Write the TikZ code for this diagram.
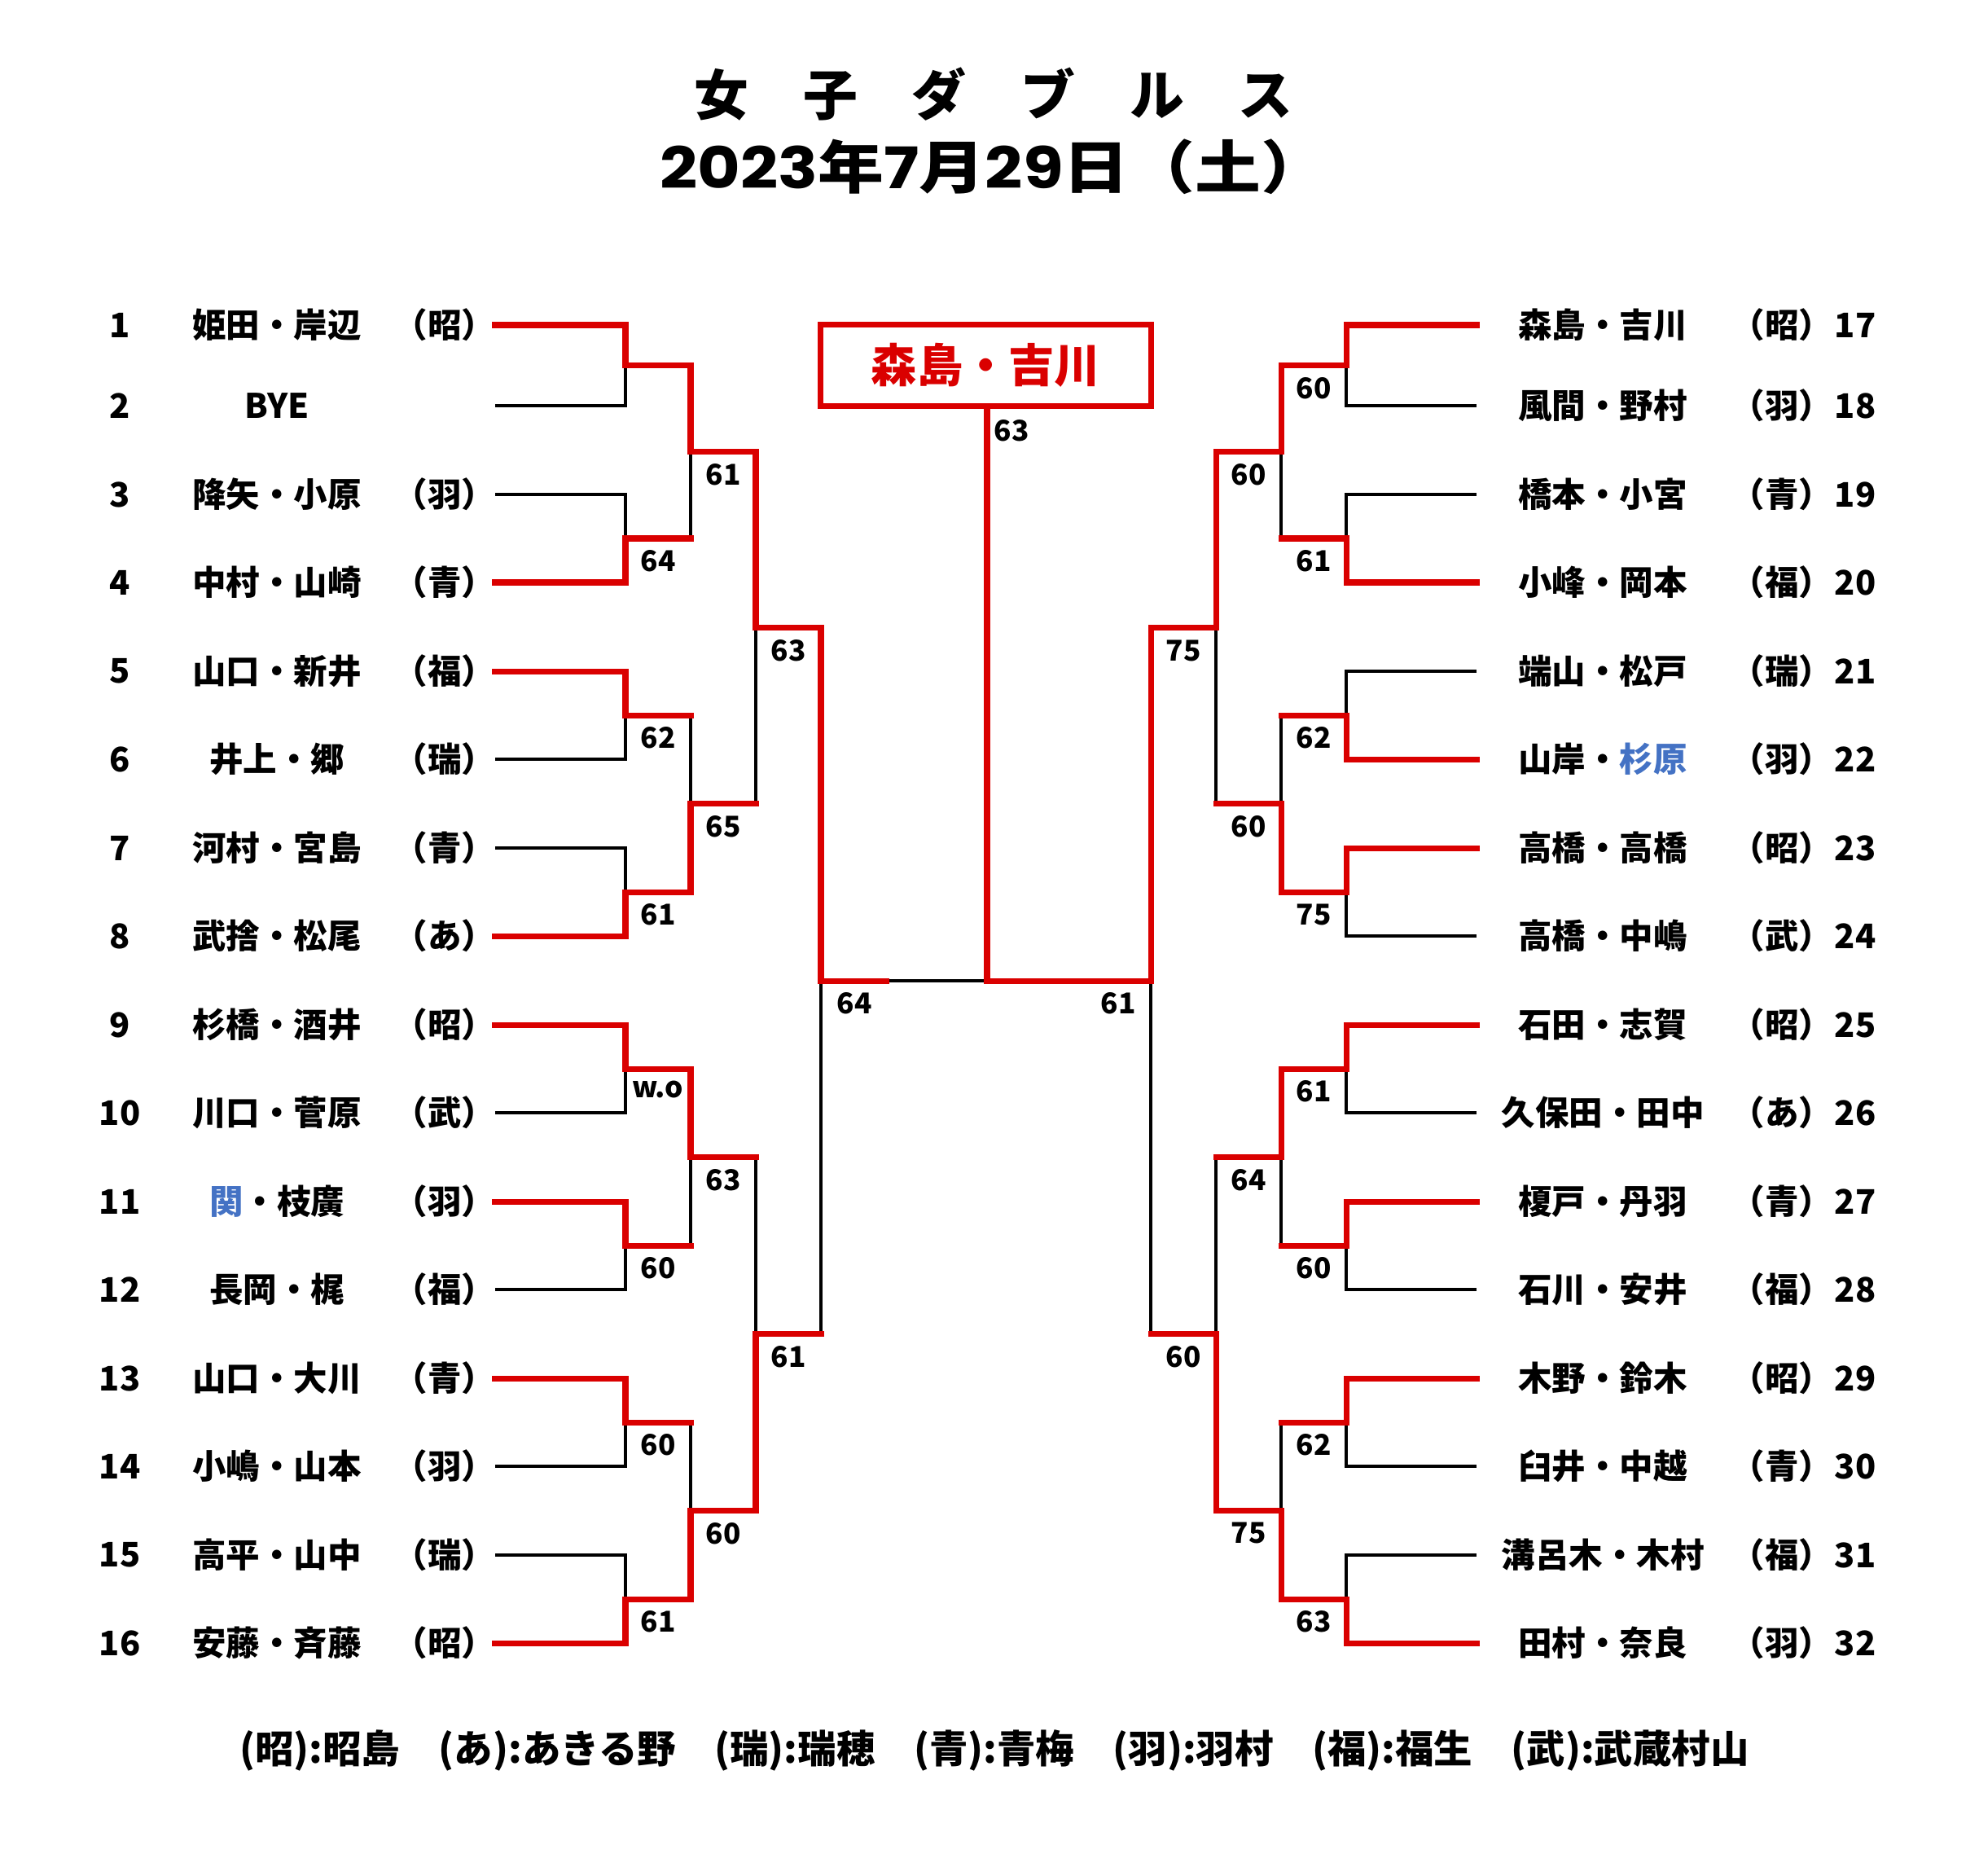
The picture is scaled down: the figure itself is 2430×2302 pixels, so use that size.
\documentclass[tikz,border=0pt]{standalone}
\usepackage{fontspec}
\setmainfont{Noto Sans CJK JP}
\newfontfamily\numfont{Poppins}
\definecolor{wred}{RGB}{218,0,0}
\definecolor{nblue}{RGB}{68,114,196}
\tikzset{
  win/.style={wred, line width=2pt, line cap=rect},
  lose/.style={black, line width=1pt},
  team/.style={font=\fontsize{11.8}{14}\selectfont\bfseries, inner sep=0pt},
  score/.style={font=\fontsize{10}{12}\selectfont\bfseries, anchor=north, inner sep=0pt},
}
\begin{document}
\begin{tikzpicture}[x=0.01cm, y=-0.01cm]
\useasboundingbox (0,0) rectangle (2430,2302);
\node[font=\fontsize{19}{23}\selectfont\bfseries] (title) at (1220,116) {女　子　ダ　ブ　ル　ス};
\node[font=\fontsize{20}{24}\selectfont\bfseries] (date) at (1220,205) {\scalebox{1.15}[1]{{\numfont 2023}年{\numfont 7}月{\numfont 29}日（土）}};

\node[team] (n1) at (147,399) {1};   \node[team] (t1) at (340,399) {姫田・岸辺};   \node[team] (s1) at (546,399) {（昭）};
\node[team] (n2) at (147,498) {2};   \node[team] (t2) at (340,498) {BYE};
\node[team] (n3) at (147,607) {3};   \node[team] (t3) at (340,607) {降矢・小原};   \node[team] (s3) at (546,607) {（羽）};
\node[team] (n4) at (147,715) {4};   \node[team] (t4) at (340,715) {中村・山崎};   \node[team] (s4) at (546,715) {（青）};
\node[team] (n5) at (147,824) {5};   \node[team] (t5) at (340,824) {山口・新井};   \node[team] (s5) at (546,824) {（福）};
\node[team] (n6) at (147,932) {6};   \node[team] (t6) at (340,932) {井上・郷};     \node[team] (s6) at (546,932) {（瑞）};
\node[team] (n7) at (147,1041) {7};  \node[team] (t7) at (340,1041) {河村・宮島};  \node[team] (s7) at (546,1041) {（青）};
\node[team] (n8) at (147,1149) {8};  \node[team] (t8) at (340,1149) {武捨・松尾};  \node[team] (s8) at (546,1149) {（あ）};
\node[team] (n9) at (147,1258) {9};  \node[team] (t9) at (340,1258) {杉橋・酒井};  \node[team] (s9) at (546,1258) {（昭）};
\node[team] (n10) at (147,1366) {10}; \node[team] (t10) at (340,1366) {川口・菅原}; \node[team] (s10) at (546,1366) {（武）};
\node[team] (n11) at (147,1475) {11}; \node[team] (t11) at (340,1475) {\textcolor{nblue}{関}・枝廣}; \node[team] (s11) at (546,1475) {（羽）};
\node[team] (n12) at (147,1583) {12}; \node[team] (t12) at (340,1583) {長岡・梶};   \node[team] (s12) at (546,1583) {（福）};
\node[team] (n13) at (147,1692) {13}; \node[team] (t13) at (340,1692) {山口・大川}; \node[team] (s13) at (546,1692) {（青）};
\node[team] (n14) at (147,1800) {14}; \node[team] (t14) at (340,1800) {小嶋・山本}; \node[team] (s14) at (546,1800) {（羽）};
\node[team] (n15) at (147,1909) {15}; \node[team] (t15) at (340,1909) {高平・山中}; \node[team] (s15) at (546,1909) {（瑞）};
\node[team] (n16) at (147,2017) {16}; \node[team] (t16) at (340,2017) {安藤・斉藤}; \node[team] (s16) at (546,2017) {（昭）};

\node[team] (t17) at (1968,399) {森島・吉川};   \node[team] (s17) at (2188,399) {（昭）};  \node[team] (n17) at (2278,399) {17};
\node[team] (t18) at (1968,498) {風間・野村};   \node[team] (s18) at (2188,498) {（羽）};  \node[team] (n18) at (2278,498) {18};
\node[team] (t19) at (1968,607) {橋本・小宮};   \node[team] (s19) at (2188,607) {（青）};  \node[team] (n19) at (2278,607) {19};
\node[team] (t20) at (1968,715) {小峰・岡本};   \node[team] (s20) at (2188,715) {（福）};  \node[team] (n20) at (2278,715) {20};
\node[team] (t21) at (1968,824) {端山・松戸};   \node[team] (s21) at (2188,824) {（瑞）};  \node[team] (n21) at (2278,824) {21};
\node[team] (t22) at (1968,932) {山岸・\textcolor{nblue}{杉原}}; \node[team] (s22) at (2188,932) {（羽）}; \node[team] (n22) at (2278,932) {22};
\node[team] (t23) at (1968,1041) {高橋・高橋};  \node[team] (s23) at (2188,1041) {（昭）}; \node[team] (n23) at (2278,1041) {23};
\node[team] (t24) at (1968,1149) {高橋・中嶋};  \node[team] (s24) at (2188,1149) {（武）}; \node[team] (n24) at (2278,1149) {24};
\node[team] (t25) at (1968,1258) {石田・志賀};  \node[team] (s25) at (2188,1258) {（昭）}; \node[team] (n25) at (2278,1258) {25};
\node[team] (t26) at (1968,1366) {久保田・田中}; \node[team] (s26) at (2188,1366) {（あ）}; \node[team] (n26) at (2278,1366) {26};
\node[team] (t27) at (1968,1475) {榎戸・丹羽};  \node[team] (s27) at (2188,1475) {（青）}; \node[team] (n27) at (2278,1475) {27};
\node[team] (t28) at (1968,1583) {石川・安井};  \node[team] (s28) at (2188,1583) {（福）}; \node[team] (n28) at (2278,1583) {28};
\node[team] (t29) at (1968,1692) {木野・鈴木};  \node[team] (s29) at (2188,1692) {（昭）}; \node[team] (n29) at (2278,1692) {29};
\node[team] (t30) at (1968,1800) {臼井・中越};  \node[team] (s30) at (2188,1800) {（青）}; \node[team] (n30) at (2278,1800) {30};
\node[team] (t31) at (1968,1909) {溝呂木・木村}; \node[team] (s31) at (2188,1909) {（福）}; \node[team] (n31) at (2278,1909) {31};
\node[team] (t32) at (1968,2017) {田村・奈良};  \node[team] (s32) at (2188,2017) {（羽）}; \node[team] (n32) at (2278,2017) {32};

\coordinate (p1) at (608,399);   \coordinate (p2) at (608,498);   \coordinate (p3) at (608,607);   \coordinate (p4) at (608,715);
\coordinate (p5) at (608,824);   \coordinate (p6) at (608,932);   \coordinate (p7) at (608,1041);  \coordinate (p8) at (608,1149);
\coordinate (p9) at (608,1258);  \coordinate (p10) at (608,1366); \coordinate (p11) at (608,1475); \coordinate (p12) at (608,1583);
\coordinate (p13) at (608,1692); \coordinate (p14) at (608,1800); \coordinate (p15) at (608,1909); \coordinate (p16) at (608,2017);
\coordinate (p17) at (1813,399);  \coordinate (p18) at (1813,498);  \coordinate (p19) at (1813,607);  \coordinate (p20) at (1813,715);
\coordinate (p21) at (1813,824);  \coordinate (p22) at (1813,932);  \coordinate (p23) at (1813,1041); \coordinate (p24) at (1813,1149);
\coordinate (p25) at (1813,1258); \coordinate (p26) at (1813,1366); \coordinate (p27) at (1813,1475); \coordinate (p28) at (1813,1583);
\coordinate (p29) at (1813,1692); \coordinate (p30) at (1813,1800); \coordinate (p31) at (1813,1909); \coordinate (p32) at (1813,2017);

\coordinate (a1) at (768,448.5); \coordinate (a2) at (768,661);  \coordinate (a3) at (768,878);  \coordinate (a4) at (768,1095);
\coordinate (a5) at (768,1312);  \coordinate (a6) at (768,1529); \coordinate (a7) at (768,1746); \coordinate (a8) at (768,1963);
\coordinate (b1) at (848,554.75); \coordinate (b2) at (848,986.5); \coordinate (b3) at (848,1420.5); \coordinate (b4) at (848,1854.5);
\coordinate (c1) at (928,770.6); \coordinate (c2) at (928,1637.5);
\coordinate (d1) at (1008,1204);
\coordinate (e1) at (1653,448.5); \coordinate (e2) at (1653,661);  \coordinate (e3) at (1653,878);  \coordinate (e4) at (1653,1095);
\coordinate (e5) at (1653,1312);  \coordinate (e6) at (1653,1529); \coordinate (e7) at (1653,1746); \coordinate (e8) at (1653,1963);
\coordinate (g1) at (1573,554.75); \coordinate (g2) at (1573,986.5); \coordinate (g3) at (1573,1420.5); \coordinate (g4) at (1573,1854.5);
\coordinate (h1) at (1493,770.6); \coordinate (h2) at (1493,1637.5);
\coordinate (k1) at (1413,1204);
\coordinate (f) at (1212,1204);
\coordinate (dw) at (1088,1204);

\node[draw=wred, line width=2pt, minimum width=4.05cm, minimum height=0.99cm, inner sep=0pt, text=wred, font=\fontsize{16}{19}\selectfont\bfseries] (champ) at (1210.5,448.5) {森島・吉川};

\draw[lose] (p2) -- (p2 -| a1) -- (a1);
\draw[lose] (p3) -- (p3 -| a2) -- (a2);
\draw[lose] (p6) -- (p6 -| a3) -- (a3);
\draw[lose] (p7) -- (p7 -| a4) -- (a4);
\draw[lose] (p10) -- (p10 -| a5) -- (a5);
\draw[lose] (p12) -- (p12 -| a6) -- (a6);
\draw[lose] (p14) -- (p14 -| a7) -- (a7);
\draw[lose] (p15) -- (p15 -| a8) -- (a8);
\draw[lose] (a2 -| b1) -- (b1);
\draw[lose] (a3 -| b2) -- (b2);
\draw[lose] (a6 -| b3) -- (b3);
\draw[lose] (a7 -| b4) -- (b4);
\draw[lose] (b2 -| c1) -- (c1);
\draw[lose] (b3 -| c2) -- (c2);
\draw[lose] (c2 -| d1) -- (d1) -- (f);

\draw[lose] (p18) -- (p18 -| e1) -- (e1);
\draw[lose] (p19) -- (p19 -| e2) -- (e2);
\draw[lose] (p21) -- (p21 -| e3) -- (e3);
\draw[lose] (p24) -- (p24 -| e4) -- (e4);
\draw[lose] (p26) -- (p26 -| e5) -- (e5);
\draw[lose] (p28) -- (p28 -| e6) -- (e6);
\draw[lose] (p30) -- (p30 -| e7) -- (e7);
\draw[lose] (p31) -- (p31 -| e8) -- (e8);
\draw[lose] (e2 -| g1) -- (g1);
\draw[lose] (e3 -| g2) -- (g2);
\draw[lose] (e6 -| g3) -- (g3);
\draw[lose] (e7 -| g4) -- (g4);
\draw[lose] (g2 -| h1) -- (h1);
\draw[lose] (g3 -| h2) -- (h2);
\draw[lose] (h2 -| k1) -- (k1);

\draw[win] (p1) -- (p1 -| a1) -- (a1) -- (a1 -| b1);
\draw[win] (p4) -- (p4 -| a2) -- (a2) -- (a2 -| b1);
\draw[win] (p5) -- (p5 -| a3) -- (a3) -- (a3 -| b2);
\draw[win] (p8) -- (p8 -| a4) -- (a4) -- (a4 -| b2);
\draw[win] (p9) -- (p9 -| a5) -- (a5) -- (a5 -| b3);
\draw[win] (p11) -- (p11 -| a6) -- (a6) -- (a6 -| b3);
\draw[win] (p13) -- (p13 -| a7) -- (a7) -- (a7 -| b4);
\draw[win] (p16) -- (p16 -| a8) -- (a8) -- (a8 -| b4);
\draw[win] (a1 -| b1) -- (b1) -- (b1 -| c1);
\draw[win] (a4 -| b2) -- (b2) -- (b2 -| c1);
\draw[win] (a5 -| b3) -- (b3) -- (b3 -| c2);
\draw[win] (a8 -| b4) -- (b4) -- (b4 -| c2);
\draw[win] (b1 -| c1) -- (c1) -- (c1 -| d1);
\draw[win] (b4 -| c2) -- (c2) -- (c2 -| d1);
\draw[win] (c1 -| d1) -- (d1) -- (dw);

\draw[win] (p17) -- (p17 -| e1) -- (e1) -- (e1 -| g1);
\draw[win] (p20) -- (p20 -| e2) -- (e2) -- (e2 -| g1);
\draw[win] (p22) -- (p22 -| e3) -- (e3) -- (e3 -| g2);
\draw[win] (p23) -- (p23 -| e4) -- (e4) -- (e4 -| g2);
\draw[win] (p25) -- (p25 -| e5) -- (e5) -- (e5 -| g3);
\draw[win] (p27) -- (p27 -| e6) -- (e6) -- (e6 -| g3);
\draw[win] (p29) -- (p29 -| e7) -- (e7) -- (e7 -| g4);
\draw[win] (p32) -- (p32 -| e8) -- (e8) -- (e8 -| g4);
\draw[win] (e1 -| g1) -- (g1) -- (g1 -| h1);
\draw[win] (e4 -| g2) -- (g2) -- (g2 -| h1);
\draw[win] (e5 -| g3) -- (g3) -- (g3 -| h2);
\draw[win] (e8 -| g4) -- (g4) -- (g4 -| h2);
\draw[win] (g1 -| h1) -- (h1) -- (h1 -| k1);
\draw[win] (g4 -| h2) -- (h2) -- (h2 -| k1);
\draw[win] (h1 -| k1) -- (k1) -- (f) -- (f |- champ.south);

\node[score] (la2) at (808,675) {64};
\node[score] (la3) at (808,892) {62};
\node[score] (la4) at (808,1109) {61};
\node[score] (la5) at (808,1326) {w.o};
\node[score] (la6) at (808,1543) {60};
\node[score] (la7) at (808,1760) {60};
\node[score] (la8) at (808,1977) {61};
\node[score] (lb1) at (888,569) {61};
\node[score] (lb2) at (888,1000.5) {65};
\node[score] (lb3) at (888,1434.5) {63};
\node[score] (lb4) at (888,1868.5) {60};
\node[score] (lc1) at (968,785) {63};
\node[score] (lc2) at (968,1651.5) {61};
\node[score] (ld1) at (1049,1218) {64};
\node[score] (le1) at (1613,462.5) {60};
\node[score] (le2) at (1613,675) {61};
\node[score] (le3) at (1613,892) {62};
\node[score] (le4) at (1613,1109) {75};
\node[score] (le5) at (1613,1326) {61};
\node[score] (le6) at (1613,1543) {60};
\node[score] (le7) at (1613,1760) {62};
\node[score] (le8) at (1613,1977) {63};
\node[score] (lg1) at (1533,569) {60};
\node[score] (lg2) at (1533,1000.5) {60};
\node[score] (lg3) at (1533,1434.5) {64};
\node[score] (lg4) at (1533,1868.5) {75};
\node[score] (lh1) at (1453,785) {75};
\node[score] (lh2) at (1453,1651.5) {60};
\node[score] (lk1) at (1373,1218) {61};
\node[score] (lf) at (1242,515) {63};

\node[font=\fontsize{13.5}{16}\selectfont\bfseries] (key) at (1221,2149) {(昭):昭島　(あ):あきる野　(瑞):瑞穂　(青):青梅　(羽):羽村　(福):福生　(武):武蔵村山};
\end{tikzpicture}
\end{document}
